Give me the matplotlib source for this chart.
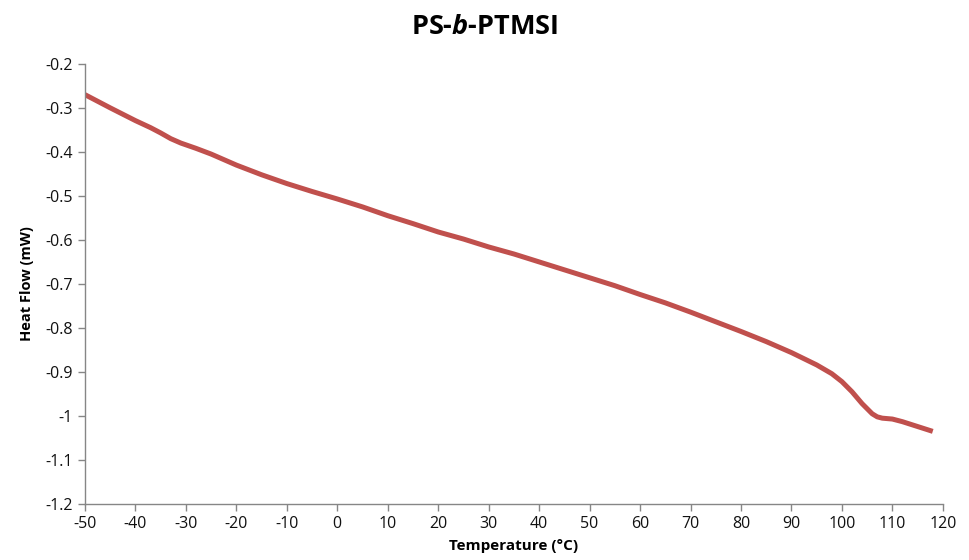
import matplotlib.pyplot as plt

# DSC trace, heat flow vs temperature
temperature = [-50, -45, -40, -37, -35, -33, -31, -28, -25, -20, -15, -10, -5, 0,
               5, 10, 15, 20, 25, 30, 35, 40, 45, 50, 55, 60, 65, 70, 75, 80,
               85, 90, 95, 98, 100, 102, 104, 106, 107, 108, 110, 112, 115, 118]
heat_flow = [-0.270, -0.300, -0.329, -0.345, -0.357, -0.370, -0.380, -0.392,
             -0.405, -0.430, -0.452, -0.472, -0.490, -0.507, -0.525, -0.545,
             -0.563, -0.582, -0.598, -0.616, -0.632, -0.650, -0.668, -0.686,
             -0.704, -0.724, -0.743, -0.764, -0.786, -0.808, -0.831, -0.856,
             -0.884, -0.904, -0.922, -0.945, -0.972, -0.995, -1.002, -1.005,
             -1.007, -1.013, -1.024, -1.035]

x_ticks = list(range(-50, 121, 10))
y_ticks = [-1.2, -1.1, -1.0, -0.9, -0.8, -0.7, -0.6, -0.5, -0.4, -0.3, -0.2]

plt.rcParams["font.family"] = ["Open Sans", "DejaVu Sans"]
plt.rcParams["mathtext.fontset"] = "custom"
plt.rcParams["mathtext.it"] = "Open Sans:italic:bold"
plt.rcParams["mathtext.rm"] = "Open Sans:bold"

fig = plt.figure(figsize=(9.69, 5.60), dpi=100)
ax = fig.add_axes([0.0877, 0.1, 0.8853, 0.786])

ax.plot(temperature, heat_flow, color="#C0504D", linewidth=3.6,
        solid_capstyle="butt")

ax.set_xlim(-50, 120)
ax.set_ylim(-1.2, -0.2)
ax.set_xticks(x_ticks)
ax.set_xticklabels([str(t) for t in x_ticks])
ax.set_yticks(y_ticks)
ax.set_yticklabels(["%g" % v for v in y_ticks])

for side in ("top", "right"):
    ax.spines[side].set_visible(False)
for side in ("left", "bottom"):
    ax.spines[side].set_color("#868686")
    ax.spines[side].set_linewidth(1.0)

ax.tick_params(direction="out", length=5, width=1, color="#868686",
               labelsize=11.5, labelcolor="#111111", pad=4)

ax.set_xlabel("Temperature (°C)", fontsize=11, fontweight="bold", labelpad=5)
ax.set_ylabel("Heat Flow (mW)", fontsize=10.5, fontweight="bold", labelpad=8)
fig.text(0.5, 0.952, r"PS-$\mathit{b}$-PTMSI", ha="center", va="center",
         fontsize=19.5, fontweight="bold")

fig.savefig("out.png", dpi=100)
